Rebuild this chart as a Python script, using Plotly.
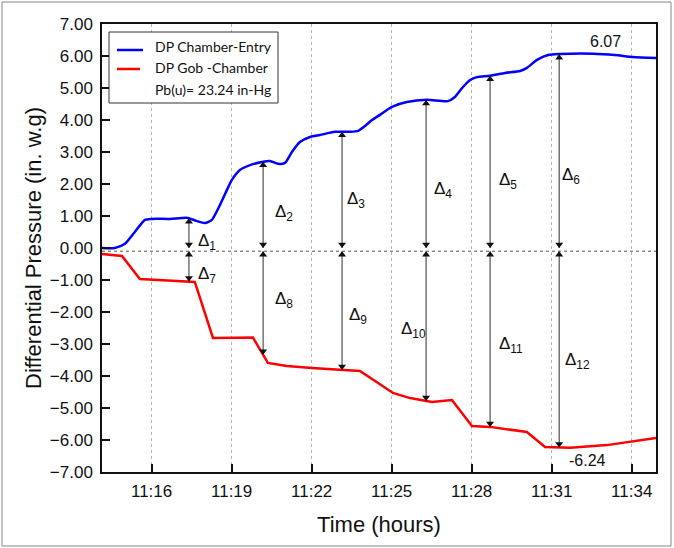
import numpy as np
import pandas as pd
import plotly.graph_objects as go

# ---------------- data (time in minutes after 11:00) ----------------
blue_t = [14.14, 14.62, 15.00, 15.37, 15.75, 16.01, 16.69, 17.36, 17.70, 18.00, 18.26,
          18.56, 18.86, 19.01, 19.31, 19.69, 20.14, 20.44, 20.74, 21.00, 21.26, 21.56,
          21.94, 22.31, 22.87, 23.44, 23.74, 24.04, 24.26, 24.56, 25.01, 25.57, 26.32,
          27.11, 27.37, 27.64, 27.94, 28.20, 28.69, 29.25, 29.81, 30.07, 30.45, 30.86,
          31.31, 32.55, 33.37, 34.05, 34.91]
blue_v = [0.00, 0.00, 0.13, 0.50, 0.88, 0.91, 0.91, 0.94, 0.84, 0.78, 0.88,
          1.34, 1.88, 2.13, 2.44, 2.59, 2.69, 2.72, 2.63, 2.66, 3.00, 3.31,
          3.47, 3.53, 3.63, 3.63, 3.66, 3.84, 4.00, 4.16, 4.41, 4.56, 4.63,
          4.59, 4.72, 5.00, 5.25, 5.34, 5.38, 5.47, 5.53, 5.63, 5.88, 6.03,
          6.06, 6.07, 6.03, 5.97, 5.94]

red_t = [14.14, 14.89, 15.56, 16.31, 17.06, 17.62, 18.30, 18.94, 19.61, 19.80, 20.36, 21.07,
         22.01, 23.06, 23.81, 24.49, 25.05, 25.69, 26.51, 27.26, 28.01, 28.69, 30.07,
         30.75, 31.69, 33.07, 34.91]
red_v = [-0.19, -0.25, -0.97, -1.00, -1.03, -1.06, -2.81, -2.81, -2.80, -2.80, -3.59, -3.69,
         -3.75, -3.81, -3.84, -4.22, -4.53, -4.69, -4.81, -4.75, -5.56, -5.59, -5.75,
         -6.22, -6.24, -6.16, -5.94]

delta_t = [17.40, 20.18, 23.14, 26.29, 28.69, 31.28]   # arrow times (min after 11:00)
upper_names = ["1", "2", "3", "4", "5", "6"]
lower_names = ["7", "8", "9", "10", "11", "12"]
ref_level = -0.10                                       # dotted reference line

y_ticks = [-7, -6, -5, -4, -3, -2, -1, 0, 1, 2, 3, 4, 5, 6, 7]
x_tick_minutes = [16, 19, 22, 25, 28, 31, 34]
max_label = "6.07"
min_label = "-6.24"
legend_labels = ["DP Chamber-Entry", "DP Gob -Chamber", "Pb(u)= 23.24 in-Hg"]

# ---------------- helpers ----------------
base = pd.Timestamp("2019-01-01 11:00:00")
def T(m):
    return base + pd.to_timedelta(np.asarray(m, dtype=float), unit="min")

def ts(m):
    return (base + pd.Timedelta(minutes=float(m))).strftime("%Y-%m-%d %H:%M:%S.%f")

W, H = 674, 548
L, R, TOP, BOT = 102, 656, 24, 472
PXU = (BOT - TOP) / 14.0   # pixels per y unit
def px(x):  # pixel x -> paper
    return (x - L) / (R - L)
def py(y):  # pixel y -> paper
    return (BOT - y) / (BOT - TOP)

FONT = "Liberation Sans, Arial, sans-serif"
INK = "#111111"

fig = go.Figure()
fig.add_trace(go.Scatter(x=T(blue_t), y=blue_v, mode="lines",
                         line=dict(color="#0000ff", width=2.5, shape="spline", smoothing=0.6),
                         showlegend=False, hoverinfo="skip"))
fig.add_trace(go.Scatter(x=T(red_t), y=red_v, mode="lines",
                         line=dict(color="#ff0000", width=2.5),
                         showlegend=False, hoverinfo="skip"))

# ---- delta arrows (lines + triangle heads) ----
top_vals = np.interp(delta_t, blue_t, blue_v)
bot_vals = np.interp(delta_t, red_t, red_v)
up_top = ref_level + 0.10
half = 3.5 / PXU   # marker centre offset from tip
lx, ly = [], []
for t, tv, bv in zip(delta_t, top_vals, bot_vals):
    lx += [t, t, None]
    ly += [up_top, tv, None]
    lx += [t, t, None]
    ly += [ref_level, bv, None]
fig.add_trace(go.Scatter(x=[None if v is None else T([v])[0] for v in lx], y=ly, mode="lines",
                         line=dict(color="#303030", width=1), showlegend=False,
                         hoverinfo="skip"))
up_x = list(delta_t) + list(delta_t)
up_y = [v - half for v in top_vals] + [ref_level - half] * len(delta_t)
dn_x = list(delta_t) + list(delta_t)
dn_y = [up_top + half] * len(delta_t) + [v + half for v in bot_vals]
fig.add_trace(go.Scatter(x=T(up_x), y=up_y, mode="markers",
                         marker=dict(symbol="triangle-up", size=7, color="#111111",
                                     line=dict(width=0)),
                         showlegend=False, hoverinfo="skip"))
fig.add_trace(go.Scatter(x=T(dn_x), y=dn_y, mode="markers",
                         marker=dict(symbol="triangle-down", size=7, color="#111111",
                                     line=dict(width=0)),
                         showlegend=False, hoverinfo="skip"))

annotations = []
shapes = []

# dotted reference line
shapes.append(dict(type="line", xref="paper", yref="y", x0=0, x1=1, y0=ref_level, y1=ref_level,
                   line=dict(color="#555555", width=1, dash="dot")))

# delta labels (left edge px, centre px)
up_pos = [(196, 239), (273, 210), (345, 197), (432, 187), (497, 178), (560, 173)]
lo_pos = [(196, 272), (273, 297), (347, 313), (399, 327), (497, 342), (563, 358)]
for name, (x, y) in list(zip(upper_names, up_pos)) + list(zip(lower_names, lo_pos)):
    annotations.append(dict(x=px(x), y=py(y + 3), xref="paper", yref="paper",
                            text="Δ<sub>%s</sub>" % name, showarrow=False,
                            xanchor="left", yanchor="middle",
                            font=dict(family=FONT, size=17, color=INK)))

# max / min value labels
annotations.append(dict(x=px(605), y=py(41), xref="paper", yref="paper", text=max_label,
                        showarrow=False, xanchor="center", yanchor="middle",
                        font=dict(family=FONT, size=16, color=INK)))
annotations.append(dict(x=px(587), y=py(460), xref="paper", yref="paper", text=min_label,
                        showarrow=False, xanchor="center", yanchor="middle",
                        font=dict(family=FONT, size=16, color=INK)))

# manual legend
shapes.append(dict(type="rect", xref="paper", yref="paper", x0=px(109), x1=px(278),
                   y0=py(103), y1=py(32), fillcolor="white",
                   line=dict(color="#333333", width=1), layer="above"))
shapes.append(dict(type="line", xref="paper", yref="paper", x0=px(117), x1=px(143),
                   y0=py(50), y1=py(50), line=dict(color="#0000ff", width=2.5), layer="above"))
shapes.append(dict(type="line", xref="paper", yref="paper", x0=px(117), x1=px(140),
                   y0=py(69), y1=py(69), line=dict(color="#ff0000", width=2.5), layer="above"))
for lab, yy in zip(legend_labels, [46, 67, 89]):
    annotations.append(dict(x=px(153), y=py(yy), xref="paper", yref="paper", text=lab,
                            showarrow=False, xanchor="left", yanchor="middle",
                            font=dict(family="Lato, Open Sans, sans-serif", size=14,
                                      color=INK)))

# outer figure border
shapes.append(dict(type="rect", xref="paper", yref="paper", x0=px(2), x1=px(671),
                   y0=py(546), y1=py(2), line=dict(color="#888888", width=1),
                   fillcolor="rgba(0,0,0,0)", layer="below"))

fig.update_layout(
    width=W, height=H,
    margin=dict(l=L, r=W - R, t=TOP, b=H - BOT, autoexpand=False),
    paper_bgcolor="white", plot_bgcolor="white",
    showlegend=False,
    annotations=annotations, shapes=shapes,
    font=dict(family=FONT, color=INK),
)
fig.update_xaxes(
    type="date", range=[ts(14.14), ts(34.91)],
    tickvals=T(x_tick_minutes), tickformat="%H:%M",
    ticks="inside", ticklen=8, tickwidth=1.5, tickcolor=INK,
    showgrid=True, gridcolor="#b5b5b5", griddash="dot", gridwidth=1,
    showline=True, mirror=True, linecolor=INK, linewidth=1.5,
    zeroline=False, automargin=False, ticklabelstandoff=3,
    tickfont=dict(family=FONT, size=17, color=INK),
    title=dict(text="Time (hours)", font=dict(family=FONT, size=22, color=INK),
               standoff=16),
)
fig.update_yaxes(
    range=[-7, 7], tickvals=y_ticks, tickformat=".2f",
    ticks="inside", ticklen=8, tickwidth=1.5, tickcolor=INK,
    showgrid=False, zeroline=False, automargin=False, ticklabelstandoff=4,
    showline=True, mirror=True, linecolor=INK, linewidth=1.5,
    tickfont=dict(family=FONT, size=17, color=INK),
    title=dict(text="Differential Pressure (in. w.g)",
               font=dict(family=FONT, size=22, color=INK), standoff=2),
)

fig.write_html("out.html", config={"displayModeBar": False},
               post_script="document.body.style.margin='0';")
